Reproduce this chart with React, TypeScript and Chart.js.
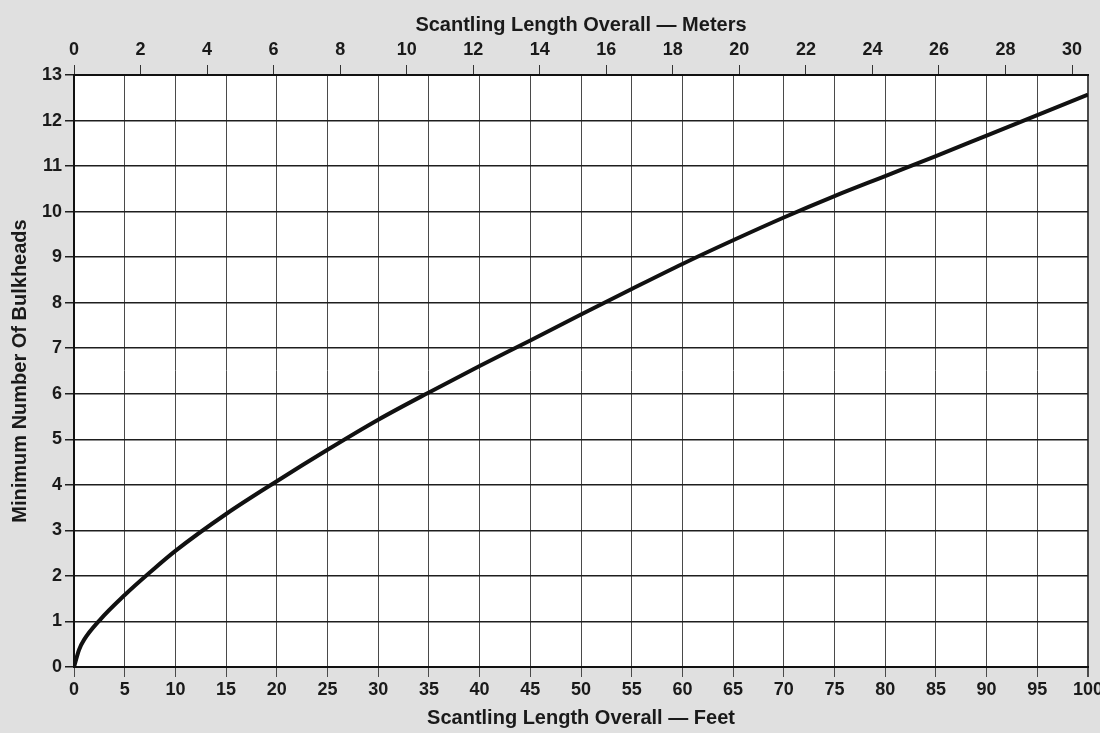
import React, { useEffect, useRef } from "react";
import { Chart, registerables } from "chart.js";

Chart.register(...registerables);

// Tick labels
const feetTicks = [0, 5, 10, 15, 20, 25, 30, 35, 40, 45, 50, 55, 60, 65, 70, 75, 80, 85, 90, 95, 100];
const meterTicks = [0, 2, 4, 6, 8, 10, 12, 14, 16, 18, 20, 22, 24, 26, 28, 30];
const bulkheadTicks = [0, 1, 2, 3, 4, 5, 6, 7, 8, 9, 10, 11, 12, 13];

// Curve: scantling length (feet) vs minimum number of bulkheads
const lengthFeet = [0, 0.5, 1, 2.5, 5, 7.5, 10, 15, 20, 25, 30, 35, 40, 45, 50, 55, 60, 65, 70, 75, 80, 85, 90, 95, 100];
const bulkheads = [0, 0.38, 0.6, 1.02, 1.58, 2.08, 2.55, 3.36, 4.08, 4.77, 5.43, 6.03, 6.61, 7.17, 7.74, 8.3, 8.85, 9.37, 9.87, 10.34, 10.78, 11.22, 11.67, 12.12, 12.57];

const FEET_MAX = 100;
const METERS_MAX = 30.48;

export default function App() {
  const ref = useRef<HTMLCanvasElement>(null);

  useEffect(() => {
    if (!ref.current) return;
    Chart.defaults.font.family = "'Liberation Sans', Arial, sans-serif";
    const textColor = "#1a1a1a";

    const bg = {
      id: "bg",
      beforeDraw(chart: any) {
        const { ctx, chartArea: a } = chart;
        ctx.save();
        ctx.fillStyle = "#e0e0e0";
        ctx.fillRect(0, 0, chart.width, chart.height);
        ctx.fillStyle = "#ffffff";
        ctx.fillRect(a.left, a.top, a.right - a.left, a.bottom - a.top);
        ctx.restore();
      },
    };

    const chart = new Chart(ref.current, {
      type: "line",
      data: {
        datasets: [
          {
            data: lengthFeet.map((x, i) => ({ x, y: bulkheads[i] })),
            borderColor: "#111111",
            borderWidth: 4,
            pointRadius: 0,
            cubicInterpolationMode: "monotone",
            xAxisID: "x",
            yAxisID: "y",
          },
        ],
      },
      options: {
        responsive: false,
        animation: false,
        layout: { padding: { left: 0, right: 12, top: 0, bottom: 0 } },
        plugins: { legend: { display: false }, tooltip: { enabled: false } },
        scales: {
          x: {
            type: "linear",
            position: "bottom",
            min: 0,
            max: FEET_MAX,
            afterBuildTicks: (s: any) => {
              s.ticks = feetTicks.map((v) => ({ value: v }));
            },
            afterFit: (s: any) => {
              s.height = 66;
              s.paddingLeft = 0;
              s.paddingRight = 0;
            },
            ticks: {
              padding: 2,
              autoSkip: false,
              maxRotation: 0,
              color: textColor,
              font: { size: 18, weight: "bold" },
            },
            grid: {
              color: "#4a4a4a",
              lineWidth: (c: any) => (c.tick && c.tick.value === FEET_MAX ? 2 : 1),
              tickLength: 10,
            },
            border: { color: "#111111", width: 2 },
            title: {
              display: true,
              text: "Scantling Length Overall — Feet",
              color: textColor,
              font: { size: 20, weight: "bold" },
              padding: { top: 0, bottom: 3 },
            },
          },
          xTop: {
            type: "linear",
            position: "top",
            min: 0,
            max: METERS_MAX,
            afterBuildTicks: (s: any) => {
              s.ticks = meterTicks.map((v) => ({ value: v }));
            },
            afterFit: (s: any) => {
              s.height = 75;
              s.paddingLeft = 0;
              s.paddingRight = 0;
            },
            ticks: {
              padding: 4,
              autoSkip: false,
              maxRotation: 0,
              color: textColor,
              font: { size: 18, weight: "bold" },
            },
            grid: { drawOnChartArea: false, color: "#333333", tickLength: 10 },
            border: { color: "#111111", width: 2 },
            title: {
              display: true,
              text: "Scantling Length Overall — Meters",
              color: textColor,
              font: { size: 20, weight: "bold" },
              padding: { top: 13, bottom: 0 },
            },
          },
          y: {
            type: "linear",
            position: "left",
            min: 0,
            max: 13,
            afterBuildTicks: (s: any) => {
              s.ticks = bulkheadTicks.map((v) => ({ value: v }));
            },
            afterFit: (s: any) => {
              s.width = 74;
              s.paddingTop = 0;
              s.paddingBottom = 0;
            },
            ticks: {
              padding: 3,
              autoSkip: false,
              color: textColor,
              font: { size: 18, weight: "bold" },
            },
            grid: { color: "#1e1e1e", lineWidth: 1.5, tickLength: 9 },
            border: { color: "#111111", width: 2 },
            title: {
              display: true,
              text: "Minimum Number Of Bulkheads",
              color: textColor,
              font: { size: 20, weight: "bold" },
              padding: { top: 8, bottom: 0 },
            },
          },
        },
      },
      plugins: [bg],
    } as any);

    return () => chart.destroy();
  }, []);

  return (
    <div style={{ position: "fixed", left: 0, top: 0, width: 1100, height: 733 }}>
      <canvas ref={ref} width={1100} height={733} style={{ display: "block" }} />
    </div>
  );
}
